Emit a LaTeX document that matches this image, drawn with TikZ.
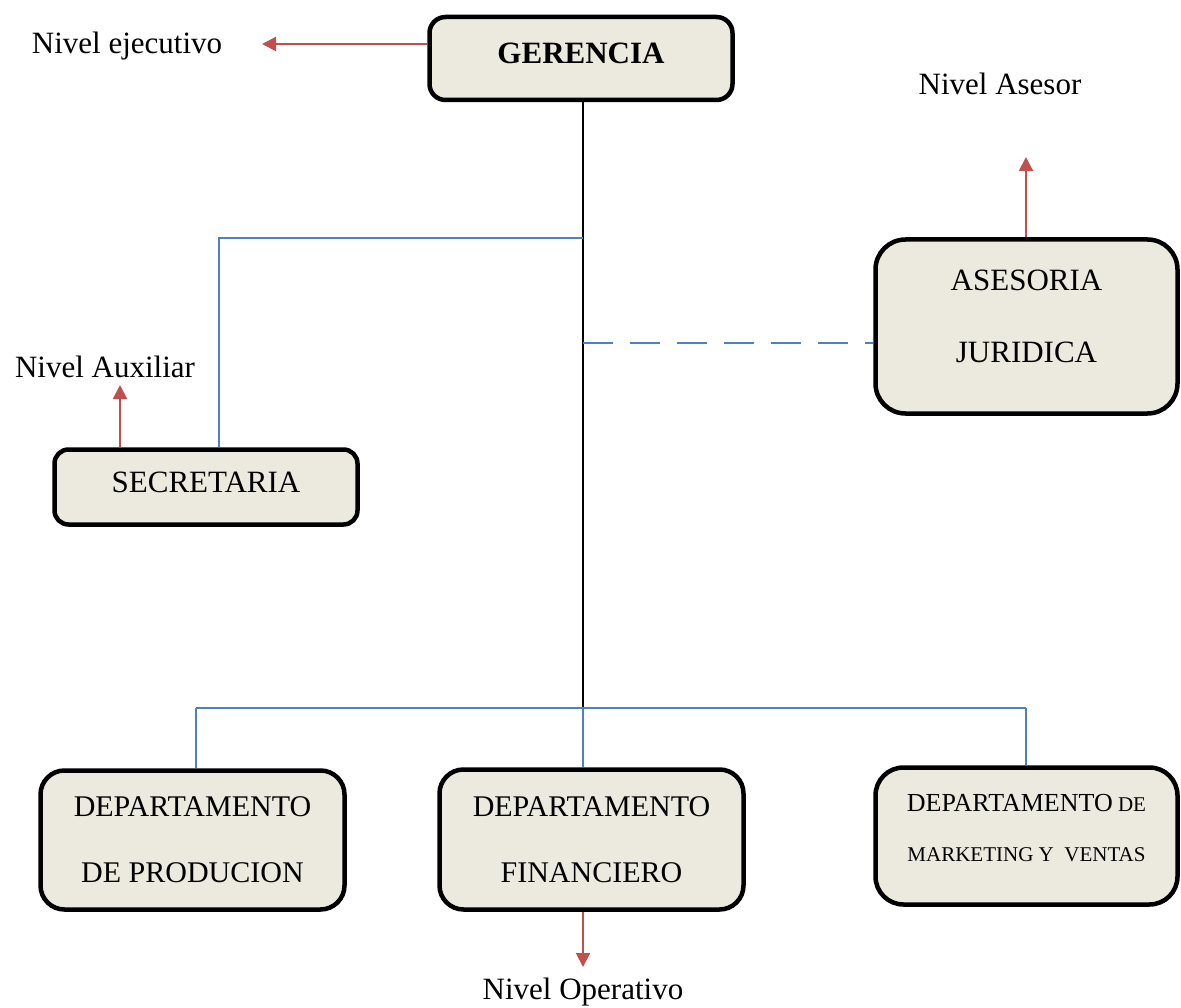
\documentclass[tikz,border=0pt]{standalone}
\usepackage{fontspec}
\setmainfont{Liberation Serif}
\usetikzlibrary{arrows.meta}
\definecolor{boxfill}{RGB}{236,233,222}
\definecolor{lvlred}{RGB}{192,80,77}
\definecolor{linkblue}{RGB}{79,129,189}
\begin{document}
\begin{tikzpicture}[x=1pt,y=-1pt,
  orgbox/.style={draw=black,line width=4.5pt,fill=boxfill,align=center,inner sep=0pt},
  lvl/.style={font=\fontsize{31}{36}\selectfont,inner sep=0pt},
  lvlarrow/.style={draw=lvlred,line width=2pt,-{Triangle[length=14pt,width=14pt]}},
  link/.style={draw=linkblue,line width=1.6pt},
  trunk/.style={draw=black,line width=1.6pt}]
\useasboundingbox (0,0) rectangle (1181,1008);

% boxes
\node[orgbox,rounded corners=16pt,minimum width=303pt,minimum height=83pt,text depth=10pt,
      font=\bfseries\fontsize{31}{36}\selectfont] (ger) at (581,58.5) {GERENCIA};
\node[orgbox,rounded corners=30pt,minimum width=302pt,minimum height=174pt,text depth=21pt,
      font=\fontsize{31}{72}\selectfont] (ase) at (1026.5,326.5) {ASESORIA\\JURIDICA};
\node[orgbox,rounded corners=14pt,minimum width=303pt,minimum height=75pt,text depth=10pt,
      font=\fontsize{31}{36}\selectfont] (sec) at (206,487) {SECRETARIA};
\node[orgbox,rounded corners=24pt,minimum width=304pt,minimum height=139pt,
      font=\fontsize{30}{66}\selectfont] (prod) at (192.5,840) {DEPARTAMENTO\\DE PRODUCION};
\node[orgbox,rounded corners=24pt,minimum width=304pt,minimum height=140pt,
      font=\fontsize{30}{66}\selectfont] (fin) at (591.5,839.5) {DEPARTAMENTO\\FINANCIERO};
\node[orgbox,rounded corners=28pt,minimum width=302pt,minimum height=137pt,text depth=17pt,
      font=\fontsize{21}{50}\selectfont] (mkt) at (1026.5,836)
      {{\fontsize{26}{50}\selectfont DEPARTAMENTO} DE\\MARKETING Y\ \ VENTAS};

% level labels
\node[lvl] (lE) at (127,46) {Nivel ejecutivo};
\node[lvl] (lA) at (1000,84) {Nivel Asesor};
\node[lvl] (lX) at (105,367) {Nivel Auxiliar};
\node[lvl] (lO) at (583,992) {Nivel Operativo};

% junction coordinates
\coordinate (jA) at (583,238);
\coordinate (jS) at (219,238);
\coordinate (jD) at (583,343);
\coordinate (jB) at (583,708);
\coordinate (jL) at (196,708);
\coordinate (jR) at (1026,708);
\coordinate (tE) at (262,44);
\coordinate (tA) at (1026,157);
\coordinate (tX) at (120,385);
\coordinate (tO) at (583,967);

% trunk and links
\draw[trunk] (ger.south -| jB) -- (jB);
\draw[link] (jA) -- (jS) -- (sec.north -| jS);
\draw[link,dash pattern=on 30pt off 17pt] (jD) -- (ase.west |- jD);
\draw[link] (jL) -- (jR);
\draw[link] (jL) -- (prod.north -| jL);
\draw[link] (jB) -- (fin.north -| jB);
\draw[link] (jR) -- (mkt.north -| jR);

% level arrows
\draw[lvlarrow] (ger.west |- tE) -- (tE);
\draw[lvlarrow] (ase.north -| tA) -- (tA);
\draw[lvlarrow] (sec.north -| tX) -- (tX);
\draw[lvlarrow] (fin.south -| tO) -- (tO);
\end{tikzpicture}
\end{document}
